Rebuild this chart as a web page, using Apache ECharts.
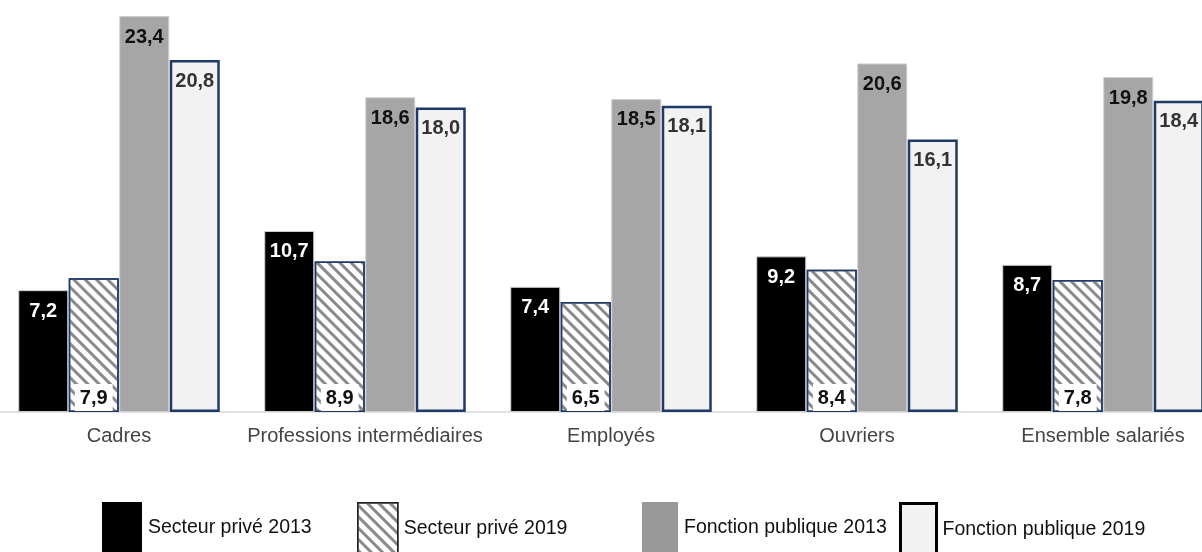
<!DOCTYPE html>
<html>
<head>
<meta charset="utf-8">
<script src="https://cdn.jsdelivr.net/npm/echarts@6/dist/echarts.min.js"></script>
<style>
html,body{margin:0;padding:0;background:#fff;}
#chart{width:1202px;height:552px;}
</style>
</head>
<body>
<div id="chart"></div>
<script>
const categories = ['Cadres', 'Professions intermédiaires', 'Employés', 'Ouvriers', 'Ensemble salariés'];
const seriesNames = ['Secteur privé 2013', 'Secteur privé 2019', 'Fonction publique 2013', 'Fonction publique 2019'];
const prive2013 = [7.2, 10.7, 7.4, 9.2, 8.7];
const prive2019 = [7.9, 8.9, 6.5, 8.4, 7.8];
const publique2013 = [23.4, 18.6, 18.5, 20.6, 19.8];
const publique2019 = [20.8, 18.0, 18.1, 16.1, 18.4];

const FONT = '"Liberation Sans", Arial, Helvetica, sans-serif';
const NAVY = '#1f3a66';
const fmt = p => p.value.toFixed(1).replace('.', ',');

const chart = echarts.init(document.getElementById('chart'), null, {renderer: 'canvas'});

const baseLabel = {
  show: true,
  fontFamily: FONT,
  fontWeight: 'bold',
  fontSize: 20,
  formatter: fmt
};

const hatchDecal = {
  symbol: 'rect',
  symbolSize: 1,
  dashArrayX: [1, 0],
  dashArrayY: [3, 5],
  rotation: Math.PI / 4,
  color: '#8a8a8a'
};

function legendFor(name, left, w, extra) {
  const item = {name: name, icon: 'rect'};
  item.itemStyle = Object.assign({borderWidth: 0}, extra || {});
  return {
    data: [item],
    icon: 'rect',
    left: left,
    top: 502,
    padding: 0,
    itemWidth: w,
    itemHeight: 52,
    selectedMode: false,
    textStyle: {fontFamily: FONT, fontSize: 19.5, color: '#111', padding: [0, 0, 0, 1]}
  };
}

chart.setOption({
  animation: false,
  backgroundColor: '#fff',
  grid: {left: -4, right: -24, top: 0, bottom: 140, containLabel: false, outerBoundsMode: 'none'},
  xAxis: {
    type: 'category',
    data: categories,
    axisTick: {show: false},
    axisLine: {lineStyle: {color: '#d9d9d9', width: 1.5}},
    axisLabel: {fontFamily: FONT, fontSize: 20, color: '#444', margin: 14, interval: 0}
  },
  yAxis: {type: 'value', min: 0, max: 24.35, show: false, splitLine: {show: false}},
  legend: [
    legendFor(seriesNames[0], 102, 40),
    legendFor(seriesNames[1], 357, 40, {borderColor: '#222', borderWidth: 1.5}),
    legendFor(seriesNames[2], 642, 36, {color: '#999'}),
    legendFor(seriesNames[3], 899, 36, {borderColor: '#000', borderWidth: 3})
  ],
  series: [
    {
      name: seriesNames[0], type: 'bar', data: prive2013,
      barWidth: 50, barGap: '1%',
      itemStyle: {color: '#000', borderColor: '#d0d0d0', borderWidth: 1},
      label: Object.assign({}, baseLabel, {position: 'insideTop', distance: 11, color: '#fff'})
    },
    {
      name: seriesNames[1], type: 'bar', data: prive2019,
      barWidth: 50, barGap: '1%',
      itemStyle: {color: '#fff', borderColor: NAVY, borderWidth: 1.5, decal: hatchDecal},
      label: Object.assign({}, baseLabel, {position: 'insideBottom', distance: 1, color: '#111',
        backgroundColor: '#fff', padding: [4, 5, 3, 5]})
    },
    {
      name: seriesNames[2], type: 'bar', data: publique2013,
      barWidth: 50, barGap: '1%',
      itemStyle: {color: '#a6a6a6', borderColor: '#cfcfcf', borderWidth: 1},
      label: Object.assign({}, baseLabel, {position: 'insideTop', distance: 11, color: '#111'})
    },
    {
      name: seriesNames[3], type: 'bar', data: publique2019,
      barWidth: 50, barGap: '1%',
      itemStyle: {color: '#f2f2f2', borderColor: NAVY, borderWidth: 2.5},
      label: Object.assign({}, baseLabel, {position: 'insideTop', distance: 11, color: '#333'})
    }
  ]
});
</script>
</body>
</html>
